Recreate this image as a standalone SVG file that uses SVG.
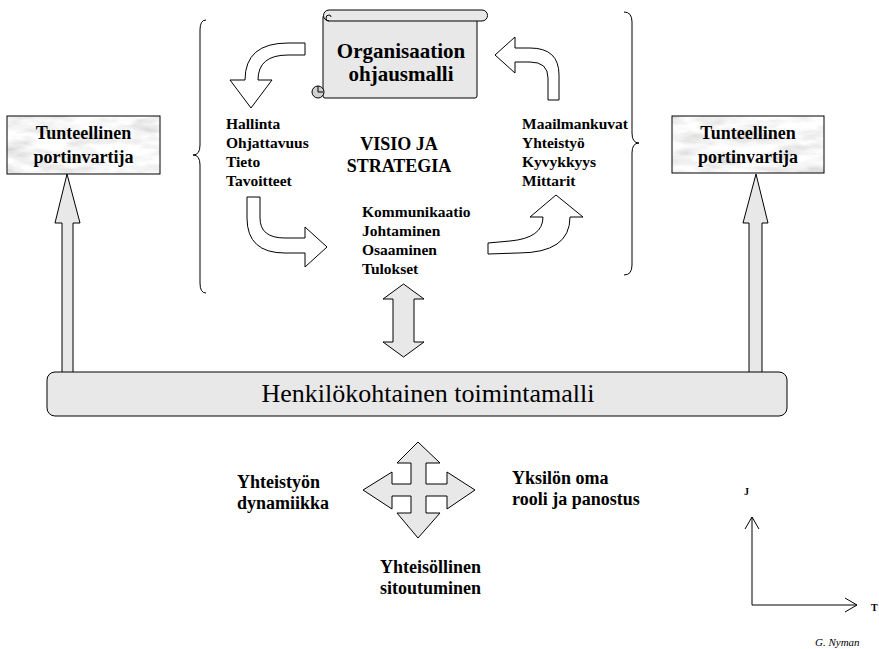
<svg xmlns="http://www.w3.org/2000/svg" width="879" height="649" viewBox="0 0 879 649">
<style>
  text { font-family: 'Liberation Serif', 'Times New Roman', serif; fill: #000; }
  .b { font-weight: bold; }
  .list { font-size: 15.5px; }
  .gray { fill: #e8e8e8; stroke: #000; stroke-width: 1; }
  .white { fill: #fff; stroke: #000; stroke-width: 1; }
  .line { fill: none; stroke: #000; stroke-width: 1; }
</style>
<defs>
  <filter id="marble" x="0" y="0" width="100%" height="100%">
    <feTurbulence type="fractalNoise" baseFrequency="0.03 0.09" numOctaves="4" seed="7" result="n"/>
    <feColorMatrix in="n" type="matrix" values="0.6 0 0 0 0.62  0.6 0 0 0 0.62  0.6 0 0 0 0.62  0 0 0 0 1" result="g"/>
    <feComposite in="g" in2="SourceGraphic" operator="in"/>
  </filter>
</defs>
<rect width="879" height="649" fill="#fff"/>

<g id="braces">
  <path class="line" d="M206,20 Q200,20 200,30 L200,145 Q200,155 193,155 Q200,155 200,165 L200,283 Q200,293 206,293"/>
  <path class="line" d="M624,12 Q632,12 632,22 L632,133 Q632,143 639,143 Q632,143 632,153 L632,265 Q632,275 624,275"/>
</g>

<g id="connectors">
  <path class="white" d="M305,43 L288,43 Q245,43 245,80 L230,80 L251,108 L272,80 L258,80 Q258,55 288,55 L305,55 Z"/>
  <path class="white" d="M495,55 L515,37 L515,48 L530,48 Q559,48 559,75 L559,100 L548,100 L548,78 Q548,62 530,62 L515,62 L515,73 Z"/>
  <path class="white" d="M247,197 L260,197 L260,218 Q260,238 285,238 L305,238 L305,227 L327,247 L305,267 L305,253 L285,253 Q247,253 247,218 Z"/>
  <path class="white" d="M488,243 L510,241 Q543,238 543,217 L530,217 L556,195 L583,217 L570,217 Q570,253 518,253 L488,254 Z"/>
  <polygon class="gray" points="62,373 62,223 55,223 67,174 80,223 73,223 73,373"/>
  <polygon class="gray" points="749,373 749,223 743,223 756,174 768,223 762,223 762,373"/>
  <polygon class="gray" points="403.5,284 424,299 414,299 414,342 424,342 403.5,357 383,342 393,342 393,299 383,299"/>
  <polygon class="gray" points="418,442 440,463 426,463 426,484 447,484 447,472 475,490 447,509 447,496 426,496 426,513 440,513 418,538 397,513 411,513 411,496 392,496 392,509 363,490 392,472 392,484 411,484 411,463 397,463"/>
  <path class="line" d="M752,605 L752,517 M745,529 L752,517 L759,529 M752,605 L857,605 M845,598 L857,605 L845,612"/>
</g>

<g id="scroll">
  <rect class="gray" x="323" y="15" width="154" height="83" rx="2"/>
  <path class="gray" d="M329,10 L482,10 A5.5,5.5 0 0 1 482,21 L329,21 A5.5,5.5 0 0 1 329,10 Z"/>
  <path class="line" d="M329,21 A3,3 0 0 1 329,15 A2,2 0 0 1 331,17"/>
  <circle cx="318" cy="92" r="6" fill="#cfcfcf" stroke="#000"/>
  <path class="line" d="M318,92 L323,92 M318,92 L318,86"/>
  <text class="b" x="401" y="58" font-size="21" text-anchor="middle">Organisaation</text>
  <text class="b" x="401" y="81" font-size="21" text-anchor="middle">ohjausmalli</text>
</g>

<g id="list-left">
  <text class="b list" x="226" y="129">Hallinta</text>
  <text class="b list" x="226" y="148">Ohjattavuus</text>
  <text class="b list" x="226" y="167">Tieto</text>
  <text class="b list" x="226" y="186">Tavoitteet</text>
</g>

<g id="visio">
  <text class="b" x="399" y="150" font-size="18" text-anchor="middle">VISIO JA</text>
  <text class="b" x="399" y="172" font-size="18" text-anchor="middle">STRATEGIA</text>
</g>

<g id="list-middle">
  <text class="b list" x="362" y="217">Kommunikaatio</text>
  <text class="b list" x="362" y="236">Johtaminen</text>
  <text class="b list" x="362" y="255">Osaaminen</text>
  <text class="b list" x="362" y="274">Tulokset</text>
</g>

<g id="list-right">
  <text class="b list" x="522" y="129">Maailmankuvat</text>
  <text class="b list" x="522" y="148">Yhteistyö</text>
  <text class="b list" x="522" y="167">Kyvykkyys</text>
  <text class="b list" x="522" y="186">Mittarit</text>
</g>

<g id="gate-left">
  <rect x="7" y="116" width="153" height="58" fill="#000" filter="url(#marble)"/>
  <rect x="7" y="116" width="153" height="58" fill="none" stroke="#000"/>
  <text class="b" x="83.5" y="139" font-size="18" text-anchor="middle">Tunteellinen</text>
  <text class="b" x="83.5" y="163" font-size="18" text-anchor="middle">portinvartija</text>
</g>

<g id="gate-right">
  <rect x="672" y="116" width="152" height="57" fill="#000" filter="url(#marble)"/>
  <rect x="672" y="116" width="152" height="57" fill="none" stroke="#000"/>
  <text class="b" x="748" y="139" font-size="18" text-anchor="middle">Tunteellinen</text>
  <text class="b" x="748" y="163" font-size="18" text-anchor="middle">portinvartija</text>
</g>

<g id="henkilo">
  <rect class="gray" x="47" y="372" width="740" height="44" rx="8"/>
  <text x="428" y="402" font-size="26" text-anchor="middle">Henkilökohtainen toimintamalli</text>
</g>

<g id="label-left">
  <text class="b" x="237" y="488" font-size="18">Yhteistyön</text>
  <text class="b" x="237" y="509" font-size="18">dynamiikka</text>
</g>
<g id="label-right">
  <text class="b" x="512" y="484" font-size="18">Yksilön oma</text>
  <text class="b" x="512" y="505" font-size="18">rooli ja panostus</text>
</g>
<g id="label-bottom">
  <text class="b" x="380" y="573" font-size="18">Yhteisöllinen</text>
  <text class="b" x="380" y="594" font-size="18">sitoutuminen</text>
</g>

<g id="axes-labels">
  <text class="b" x="744" y="495" font-size="10">J</text>
  <text class="b" x="871" y="611" font-size="10">T</text>
  <text x="815" y="646" font-size="11" font-style="italic">G. Nyman</text>
</g>
</svg>
